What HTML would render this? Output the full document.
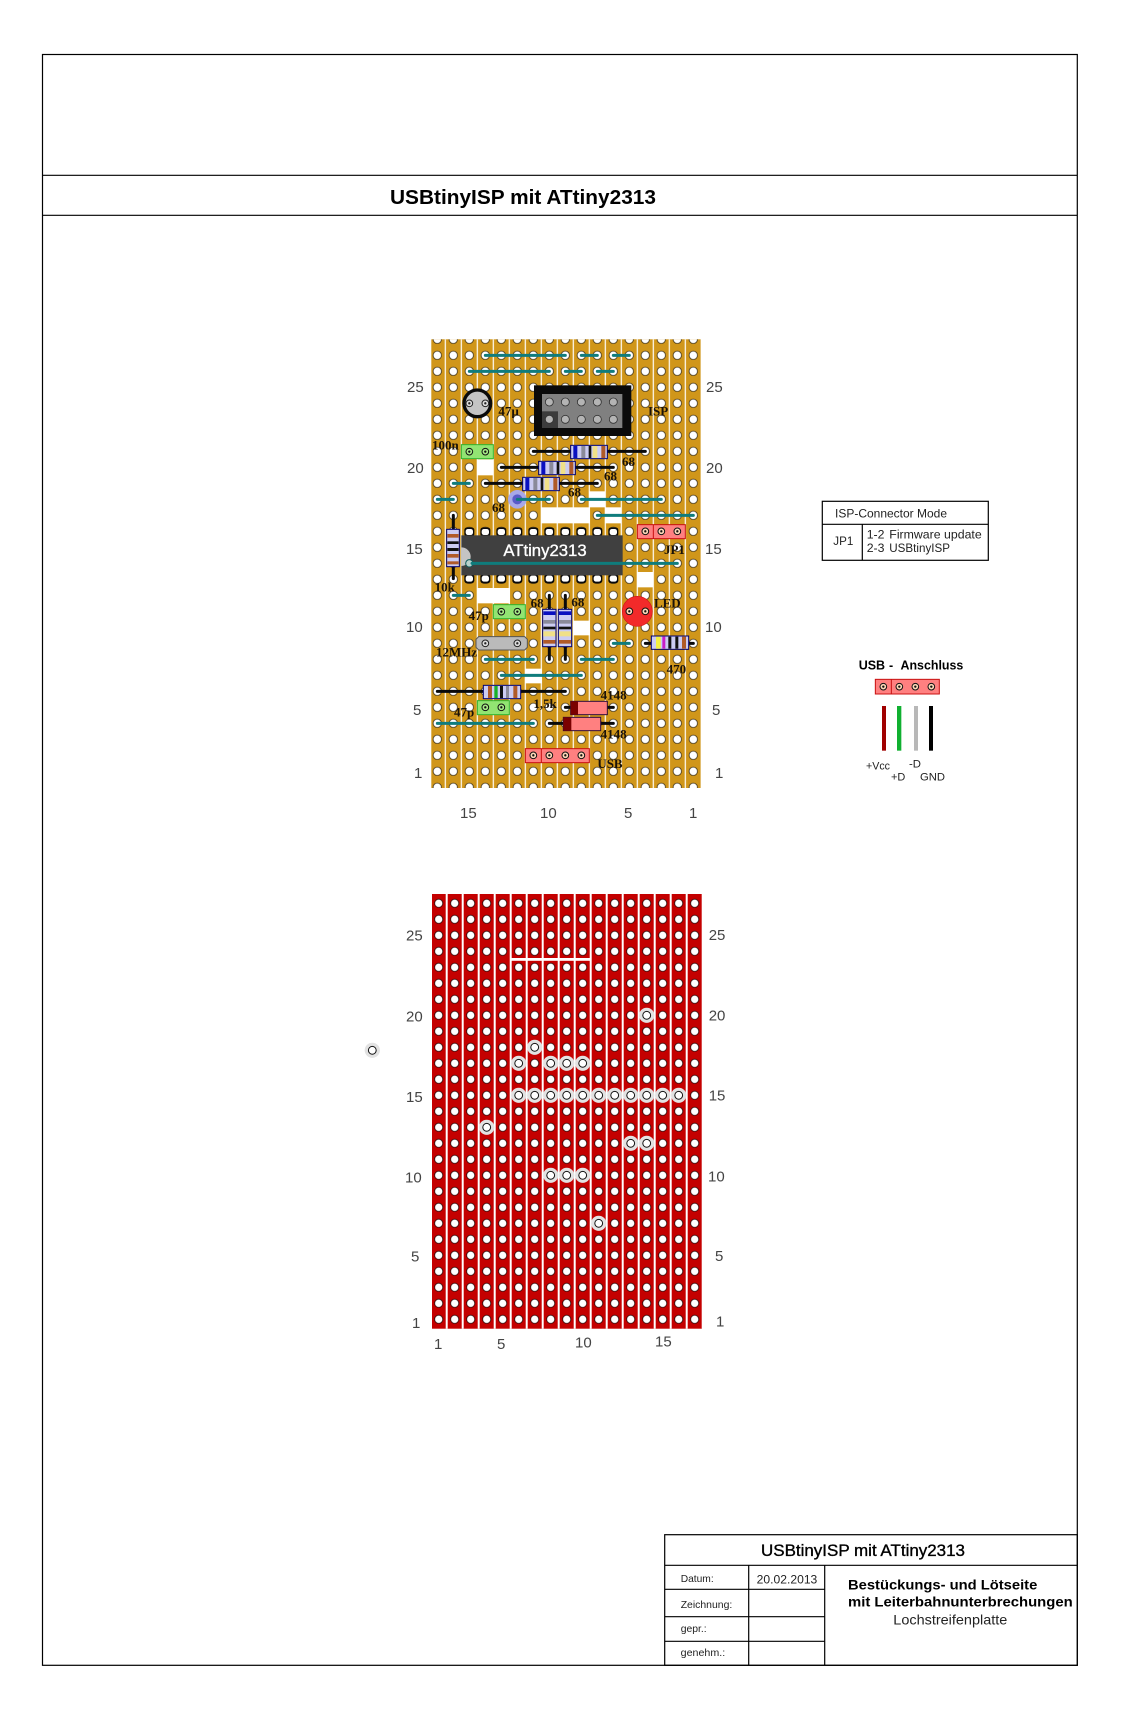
<!DOCTYPE html>
<html>
<head>
<meta charset="utf-8">
<title>USBtinyISP mit ATtiny2313</title>
<style>
html,body{margin:0;padding:0;background:#fff}
svg{display:block}
text{font-family:"Liberation Sans",sans-serif;fill:#222}
.b{font-weight:bold;fill:#000}
.n{font-size:15px;fill:#444}
.l{font-family:"Liberation Serif",serif;font-weight:bold;font-size:39px;fill:#1a1208}
.t{fill:none;stroke:#0f7c7c;stroke-width:9;stroke-linecap:round}
.k{fill:none;stroke:#0a0a0a;stroke-width:9;stroke-linecap:round}
.r{fill:#ccccf2;stroke:#00006e;stroke-width:3}
.f{stroke:#000;stroke-width:1.2;fill:none}
</style>
</head>
<body>
<svg xmlns="http://www.w3.org/2000/svg" xmlns:xlink="http://www.w3.org/1999/xlink" width="1122" height="1712" viewBox="0 0 1122 1712">
<defs>
<pattern id="pt" patternUnits="userSpaceOnUse" x="429.3" y="331.3" width="16" height="16">
<rect x="-0.6" y="0" width="1.2" height="16" fill="#fff"/><rect x="15.4" y="0" width="1.2" height="16" fill="#fff"/>
<circle cx="8" cy="8" r="4.2" fill="#fff" stroke="#1c1404" stroke-width=".7"/>
</pattern>
<pattern id="pb" patternUnits="userSpaceOnUse" x="430.7" y="895.3" width="16" height="16">
<rect x="-1" y="0" width="2" height="16" fill="#fff"/><rect x="15" y="0" width="2" height="16" fill="#fff"/>
<circle cx="8" cy="8" r="4.1" fill="#fff" stroke="#1a0000" stroke-width=".8"/>
</pattern>
<g id="cut"><circle r="7.6" fill="#e2e2e2"/><circle r="3.9" fill="#fff" stroke="#111" stroke-width="1"/></g>
<g id="pg"><circle r="10" fill="#a8ec88" stroke="#111" stroke-width="3"/><circle r="3.5" fill="#111"/></g>
<g id="pr"><circle r="10" fill="#ffd8b8" stroke="#111" stroke-width="3"/><circle r="3.5" fill="#111"/></g>
<g id="pw"><circle r="10" fill="#ddd" stroke="#222" stroke-width="3"/><circle r="3.5" fill="#222"/></g>
<g id="pin"><rect x="-15" y="-14" width="30" height="28" rx="8" fill="#0a0a0a"/><rect x="-11" y="-9" width="22" height="18" rx="7" fill="#fff"/></g>
<g id="res"><rect class="r" x="0" y="0" width="110" height="40"/><rect x="8" y="2" width="12" height="36" fill="#0a10c0"/><rect x="32" y="2" width="12" height="36" fill="#8a8a9a"/><rect x="54" y="2" width="8" height="36" fill="#111"/><rect x="66" y="2" width="14" height="36" fill="#f0e088"/><rect x="92" y="2" width="12" height="36" fill="#b05a28"/></g>
<g id="resv"><rect class="r" x="0" y="0" width="40" height="112"/><rect x="2" y="6" width="36" height="11" fill="#0a10c0"/><rect x="2" y="32" width="36" height="11" fill="#8a8a9a"/><rect x="2" y="52" width="36" height="8" fill="#111"/><rect x="2" y="66" width="36" height="15" fill="#f0e088"/><rect x="2" y="92" width="36" height="11" fill="#b05a28"/></g>
</defs>
<rect width="1122" height="1712" fill="#fff"/>

<!-- drawing frame -->
<rect class="f" x="42.5" y="54.5" width="1034.8" height="1610.8"/>
<line class="f" x1="42.5" y1="175.3" x2="1077.3" y2="175.3"/>
<line class="f" x1="42.5" y1="215.3" x2="1077.3" y2="215.3"/>
<text class="b" x="390" y="204" font-size="20.5" textLength="266" lengthAdjust="spacingAndGlyphs">USBtinyISP mit ATtiny2313</text>

<!-- title block -->
<rect class="f" x="664.7" y="1534.7" width="412.6" height="130.6"/>
<line class="f" x1="664.7" y1="1565.3" x2="1077.3" y2="1565.3"/>
<line class="f" x1="748.7" y1="1565.3" x2="748.7" y2="1665.3"/>
<line class="f" x1="824.7" y1="1565.3" x2="824.7" y2="1665.3"/>
<line class="f" x1="664.7" y1="1589.3" x2="824.7" y2="1589.3"/>
<line class="f" x1="664.7" y1="1616.7" x2="824.7" y2="1616.7"/>
<line class="f" x1="664.7" y1="1641.3" x2="824.7" y2="1641.3"/>
<text x="761" y="1556" font-size="16.8" textLength="204" lengthAdjust="spacingAndGlyphs" style="fill:#000;stroke:#000;stroke-width:.35">USBtinyISP mit ATtiny2313</text>
<text x="680.7" y="1582" font-size="10.4" textLength="33" lengthAdjust="spacingAndGlyphs">Datum:</text>
<text x="756.7" y="1583.3" font-size="11.5" textLength="60.6" lengthAdjust="spacingAndGlyphs">20.02.2013</text>
<text x="680.7" y="1608" font-size="10.4" textLength="51.6" lengthAdjust="spacingAndGlyphs">Zeichnung:</text>
<text x="680.7" y="1632" font-size="10.4" textLength="26" lengthAdjust="spacingAndGlyphs">gepr.:</text>
<text x="680.7" y="1656" font-size="10.4" textLength="44.5" lengthAdjust="spacingAndGlyphs">genehm.:</text>
<text class="b" x="848" y="1589.3" font-size="14" textLength="189.3" lengthAdjust="spacingAndGlyphs">Bestückungs- und Lötseite</text>
<text class="b" x="848" y="1606.7" font-size="14" textLength="224.7" lengthAdjust="spacingAndGlyphs">mit Leiterbahnunterbrechungen</text>
<text x="893.3" y="1624.7" font-size="14" textLength="114" lengthAdjust="spacingAndGlyphs">Lochstreifenplatte</text>

<!-- top board -->
<rect x="431.3" y="339.3" width="269.4" height="448.7" fill="#d0961a"/>
<rect x="431.3" y="339.3" width="269.4" height="448.7" fill="url(#pt)"/>

<g transform="translate(410 330) scale(.33333)">
<g fill="#fff"><rect x="202" y="388" width="48" height="48"/><rect x="394" y="532" width="146" height="48"/><rect x="538" y="484" width="48" height="48"/><rect x="586" y="532" width="48" height="48"/></g>
<path class="t" d="M226 76H466M514 76H562M610 76H658M178 124H418M466 124H514M562 124H610M130 460H178M82 508H130M514 508H754M562 556H850"/>
<circle cx="322" cy="508" r="28" fill="#a8a8e8"/><circle cx="322" cy="508" r="15" fill="#5a5ac8"/>
<path class="t" d="M322 508H418"/>
<!-- 47u cap -->
<circle cx="202" cy="220" r="40" fill="#c4c4c4" stroke="#0a0a0a" stroke-width="10"/>
<use xlink:href="#pw" x="178" y="220"/><use xlink:href="#pw" x="226" y="220"/>
<!-- ISP -->
<rect x="372" y="166" width="292" height="152" fill="#0a0a0a"/>
<rect x="396" y="192" width="241" height="102" fill="#808080"/>
<rect x="396" y="244" width="48" height="50" fill="#3c3c3c"/>
<g fill="#b4b4b4" stroke="#333" stroke-width="2.5">
<circle cx="418" cy="216" r="12"/><circle cx="466" cy="216" r="12"/><circle cx="514" cy="216" r="12"/><circle cx="562" cy="216" r="12"/><circle cx="610" cy="216" r="12"/>
<circle cx="418" cy="268" r="12"/><circle cx="466" cy="268" r="12"/><circle cx="514" cy="268" r="12"/><circle cx="562" cy="268" r="12"/><circle cx="610" cy="268" r="12"/></g>
<!-- 100n -->
<rect x="154" y="344" width="96" height="42" fill="#92e472" stroke="#2fb52f" stroke-width="3"/>
<use xlink:href="#pg" x="178" y="365"/><use xlink:href="#pg" x="226" y="365"/>
<!-- resistors -->
<path class="k" d="M370 364H706M274 412H610M226 460H562"/>
<use xlink:href="#res" x="482" y="346"/><use xlink:href="#res" x="386" y="394"/><use xlink:href="#res" x="338" y="442"/>
<path class="k" d="M130 556V600"/>
<!-- IC pins -->
<use xlink:href="#pin" x="178" y="606"/><use xlink:href="#pin" x="226" y="606"/><use xlink:href="#pin" x="274" y="606"/><use xlink:href="#pin" x="322" y="606"/><use xlink:href="#pin" x="370" y="606"/><use xlink:href="#pin" x="418" y="606"/><use xlink:href="#pin" x="466" y="606"/><use xlink:href="#pin" x="514" y="606"/><use xlink:href="#pin" x="562" y="606"/><use xlink:href="#pin" x="610" y="606"/>
<use xlink:href="#pin" x="178" y="746"/><use xlink:href="#pin" x="226" y="746"/><use xlink:href="#pin" x="274" y="746"/><use xlink:href="#pin" x="322" y="746"/><use xlink:href="#pin" x="370" y="746"/><use xlink:href="#pin" x="418" y="746"/><use xlink:href="#pin" x="466" y="746"/><use xlink:href="#pin" x="514" y="746"/><use xlink:href="#pin" x="562" y="746"/><use xlink:href="#pin" x="610" y="746"/>
<rect x="154" y="616" width="484" height="120" fill="#404040"/>
<path d="M154 652A28 28 0 0 1 154 708Z" fill="#c4c4c4"/>
<circle cx="178" cy="700" r="11" fill="#b8d0cc" stroke="#0f5c5c" stroke-width="3"/>
<path class="t" d="M186 700H802"/>
<text x="280" y="678" font-size="49" style="fill:#fff;stroke:#fff;stroke-width:1" textLength="250" lengthAdjust="spacingAndGlyphs">ATtiny2313</text>
<!-- JP1 -->
<rect x="682" y="584" width="144" height="42" fill="#ff8080" stroke="#c81010" stroke-width="3"/>
<line x1="730" y1="584" x2="730" y2="626" stroke="#c81010" stroke-width="3"/>
<use xlink:href="#pr" x="706" y="604"/><use xlink:href="#pr" x="754" y="604"/><use xlink:href="#pr" x="802" y="604"/>
<!-- vertical resistor left -->
<path class="k" d="M130 700V746"/>
<rect class="r" x="110" y="598" width="38" height="112"/>
<rect x="112" y="612" width="34" height="11" fill="#b05a28"/><rect x="112" y="634" width="34" height="8" fill="#111"/><rect x="112" y="654" width="34" height="9" fill="#111"/><rect x="112" y="672" width="34" height="11" fill="#b05a28"/><rect x="112" y="694" width="34" height="9" fill="#b05a28"/>
<text class="l" x="265" y="256">47µ</text>
<text class="l" x="714" y="257">ISP</text>
<text class="l" x="66" y="358">100n</text>
<text class="l" x="636" y="408">68</text>
<text class="l" x="582" y="452">68</text>
<text class="l" x="474" y="500">68</text>
<text class="l" x="246" y="546">68</text>
<text class="l" x="762" y="672">JP1</text>
</g>

<g transform="translate(410 560) scale(.33333)">
<g fill="#fff"><rect x="202" y="84" width="98" height="46"/><rect x="682" y="36" width="48" height="46"/><rect x="490" y="182" width="50" height="44"/><rect x="346" y="326" width="50" height="44"/></g>
<path class="t" d="M130 106H178M610 250H658M226 298H370M514 298H610M274 346H514M82 490H370"/>
<!-- LED -->
<circle cx="682" cy="154" r="45" fill="#f22a2a" stroke="#d01818" stroke-width="2"/>
<use xlink:href="#pr" x="658" y="154"/><use xlink:href="#pr" x="706" y="154"/>
<!-- 47p -->
<rect x="250" y="134" width="96" height="42" fill="#92e472" stroke="#2fb52f" stroke-width="3"/>
<use xlink:href="#pg" x="274" y="155"/><use xlink:href="#pg" x="322" y="155"/>
<!-- crystal -->
<path d="M206 230H344L352 238V262L344 270H206L198 262V238Z" fill="#bababa" stroke="#555" stroke-width="3"/>
<use xlink:href="#pw" x="226" y="250"/><use xlink:href="#pw" x="322" y="250"/>
<!-- vertical resistors -->
<path class="k" d="M418 106V298M466 106V298"/>
<use xlink:href="#resv" x="398" y="148"/><use xlink:href="#resv" x="445" y="148"/>
<!-- 470 -->
<path class="k" d="M706 250H850"/>
<rect class="r" x="724" y="228" width="112" height="40"/>
<rect x="738" y="230" width="14" height="36" fill="#f4f040"/><rect x="757" y="230" width="9" height="36" fill="#c81ec8"/><rect x="775" y="230" width="9" height="36" fill="#111"/><rect x="796" y="230" width="9" height="36" fill="#111"/><rect x="816" y="230" width="12" height="36" fill="#b05a28"/>
<!-- 1,5k -->
<path class="k" d="M82 394H466"/>
<rect class="r" x="220" y="376" width="112" height="40"/>
<rect x="234" y="378" width="12" height="36" fill="#b05a28"/><rect x="253" y="378" width="10" height="36" fill="#18b028"/><rect x="270" y="378" width="9" height="36" fill="#111"/><rect x="288" y="378" width="9" height="36" fill="#8a8a9a"/><rect x="310" y="378" width="12" height="36" fill="#b05a28"/>
<!-- 47p lower -->
<rect x="202" y="422" width="96" height="42" fill="#92e472" stroke="#2fb52f" stroke-width="3"/>
<use xlink:href="#pg" x="226" y="442"/><use xlink:href="#pg" x="274" y="442"/>
<!-- diodes -->
<path class="k" d="M466 442H610M418 490H610"/>
<rect x="482" y="424" width="110" height="40" fill="#ff8080" stroke="#30103a" stroke-width="3"/>
<rect x="482" y="424" width="22" height="40" fill="#7a0000"/>
<rect x="460" y="472" width="112" height="40" fill="#ff8080" stroke="#30103a" stroke-width="3"/>
<rect x="460" y="472" width="24" height="40" fill="#7a0000"/>
<!-- USB -->
<rect x="346" y="566" width="192" height="42" fill="#ff8080" stroke="#c81010" stroke-width="3"/>
<line x1="394" y1="566" x2="394" y2="608" stroke="#c81010" stroke-width="3"/>
<use xlink:href="#pr" x="370" y="586"/><use xlink:href="#pr" x="418" y="586"/><use xlink:href="#pr" x="466" y="586"/><use xlink:href="#pr" x="514" y="586"/>
<text class="l" x="74" y="94">10k</text>
<text class="l" x="362" y="142">68</text>
<text class="l" x="484" y="140">68</text>
<text class="l" x="732" y="142">LED</text>
<text class="l" x="176" y="180">47p</text>
<text class="l" x="78" y="290">12MHz</text>
<text class="l" x="770" y="340">470</text>
<text class="l" x="370" y="444">1,5k</text>
<text class="l" x="132" y="470">47p</text>
<text class="l" x="572" y="418">4148</text>
<text class="l" x="572" y="535">4148</text>
<text class="l" x="562" y="624">USB</text>
</g>

<!-- top board numbers -->
<text class="n" x="407" y="392">25</text><text class="n" x="407" y="473">20</text><text class="n" x="406" y="554">15</text><text class="n" x="406" y="632">10</text><text class="n" x="413" y="715">5</text><text class="n" x="414" y="778">1</text>
<text class="n" x="706" y="392">25</text><text class="n" x="706" y="473">20</text><text class="n" x="705" y="554">15</text><text class="n" x="705" y="632">10</text><text class="n" x="712" y="715">5</text><text class="n" x="715" y="778">1</text>
<text class="n" x="460" y="818">15</text><text class="n" x="540" y="818">10</text><text class="n" x="624" y="818">5</text><text class="n" x="689" y="818">1</text>

<!-- bottom board -->
<rect x="432" y="894" width="270" height="434.7" fill="#c40000"/>
<rect x="432" y="894" width="270" height="434.7" fill="url(#pb)"/>
<rect x="511.3" y="958" width="79.4" height="2.8" fill="#fff"/>
<g>
<use xlink:href="#cut" x="646.7" y="1015.3"/>
<use xlink:href="#cut" x="534.7" y="1047.3"/>
<use xlink:href="#cut" x="518.7" y="1063.3"/><use xlink:href="#cut" x="550.7" y="1063.3"/><use xlink:href="#cut" x="566.7" y="1063.3"/><use xlink:href="#cut" x="582.7" y="1063.3"/>
<use xlink:href="#cut" x="518.7" y="1095.3"/><use xlink:href="#cut" x="534.7" y="1095.3"/><use xlink:href="#cut" x="550.7" y="1095.3"/><use xlink:href="#cut" x="566.7" y="1095.3"/><use xlink:href="#cut" x="582.7" y="1095.3"/><use xlink:href="#cut" x="598.7" y="1095.3"/><use xlink:href="#cut" x="614.7" y="1095.3"/><use xlink:href="#cut" x="630.7" y="1095.3"/><use xlink:href="#cut" x="646.7" y="1095.3"/><use xlink:href="#cut" x="662.7" y="1095.3"/><use xlink:href="#cut" x="678.7" y="1095.3"/>
<use xlink:href="#cut" x="486.7" y="1127.3"/>
<use xlink:href="#cut" x="630.7" y="1143.3"/><use xlink:href="#cut" x="646.7" y="1143.3"/>
<use xlink:href="#cut" x="550.7" y="1175.3"/><use xlink:href="#cut" x="566.7" y="1175.3"/><use xlink:href="#cut" x="582.7" y="1175.3"/>
<use xlink:href="#cut" x="598.7" y="1223.3"/>
<use xlink:href="#cut" x="372.3" y="1050.3"/>
</g>
<text class="n" x="406" y="940.5">25</text><text class="n" x="406" y="1021.7">20</text><text class="n" x="406" y="1102">15</text><text class="n" x="405" y="1182.7">10</text><text class="n" x="411" y="1261.7">5</text><text class="n" x="412" y="1328">1</text>
<text class="n" x="708.7" y="940">25</text><text class="n" x="708.7" y="1020.7">20</text><text class="n" x="708.7" y="1100.7">15</text><text class="n" x="708" y="1181.7">10</text><text class="n" x="715" y="1261">5</text><text class="n" x="716" y="1326.7">1</text>
<text class="n" x="434" y="1349">1</text><text class="n" x="497" y="1349">5</text><text class="n" x="575" y="1347.7">10</text><text class="n" x="655" y="1346.7">15</text>

<!-- ISP connector table -->
<rect class="f" x="822.3" y="501.3" width="166" height="59"/>
<line class="f" x1="822.3" y1="524.3" x2="988.3" y2="524.3"/>
<line class="f" x1="862.3" y1="524.3" x2="862.3" y2="560.3"/>
<text x="835" y="517.3" font-size="12" textLength="112" lengthAdjust="spacingAndGlyphs">ISP-Connector Mode</text>
<text x="833.3" y="545" font-size="12" textLength="20" lengthAdjust="spacingAndGlyphs">JP1</text>
<text x="866.7" y="538.7" font-size="12.3">1-2</text><text x="889.3" y="538.7" font-size="12.3" textLength="92.4" lengthAdjust="spacingAndGlyphs">Firmware update</text>
<text x="866.7" y="552" font-size="12.3">2-3</text><text x="889.3" y="552" font-size="12.3" textLength="60.7" lengthAdjust="spacingAndGlyphs">USBtinyISP</text>

<!-- USB connector -->
<text class="b" x="858.7" y="669.3" font-size="12.5">USB</text><text class="b" x="889" y="669.3" font-size="12.5">-</text><text class="b" x="900.5" y="669.3" font-size="12.5" textLength="62.8" lengthAdjust="spacingAndGlyphs">Anschluss</text>
<g transform="translate(810 490) scale(.33333)">
<rect x="196" y="568" width="192" height="44" fill="#ff8080" stroke="#c81010" stroke-width="3"/>
<line x1="244" y1="568" x2="244" y2="612" stroke="#c81010" stroke-width="3"/>
<use xlink:href="#pr" x="220" y="590"/><use xlink:href="#pr" x="268" y="590"/><use xlink:href="#pr" x="316" y="590"/><use xlink:href="#pr" x="364" y="590"/>
<rect x="216" y="648" width="12" height="134" fill="#a00000"/>
<rect x="261" y="648" width="13" height="134" fill="#10b030"/>
<rect x="312" y="648" width="12" height="134" fill="#b8b8b8"/>
<rect x="357" y="648" width="12" height="134" fill="#000"/>
<text x="168" y="838" font-size="33" textLength="72" lengthAdjust="spacingAndGlyphs">+Vcc</text>
<text x="243" y="872" font-size="33" textLength="43" lengthAdjust="spacingAndGlyphs">+D</text>
<text x="297" y="832" font-size="33" textLength="36" lengthAdjust="spacingAndGlyphs">-D</text>
<text x="330" y="872" font-size="33" textLength="75" lengthAdjust="spacingAndGlyphs">GND</text>
</g>
</svg>
</body>
</html>
